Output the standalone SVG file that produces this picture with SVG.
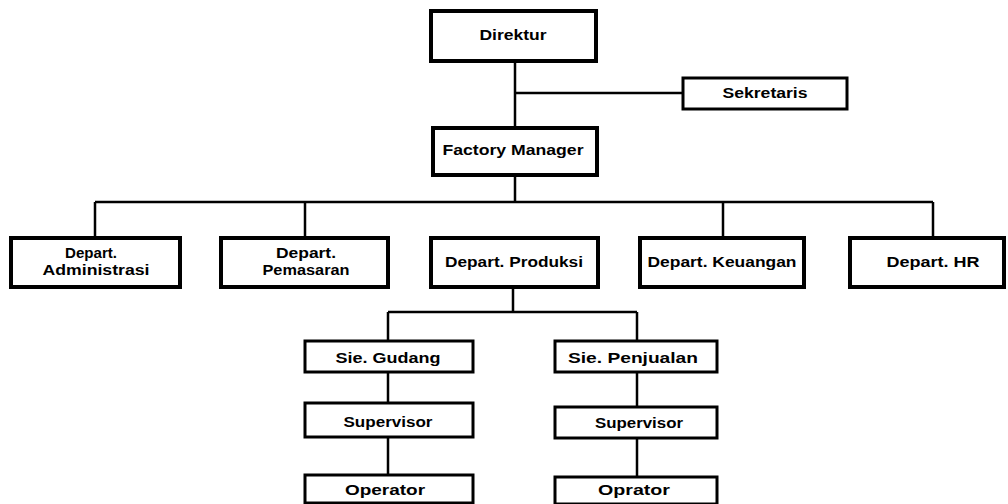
<svg xmlns="http://www.w3.org/2000/svg" width="1008" height="504" viewBox="0 0 1008 504">
<style>
.box{fill:#fff;stroke:#000;stroke-width:4}
.box2{fill:#fff;stroke:#000;stroke-width:3}
.t{font-family:"Liberation Sans",Arial,sans-serif;font-weight:bold;font-size:14px;fill:#000;text-anchor:middle}
.c{fill:none;stroke:#000;stroke-width:2.5}
</style>
<rect width="1008" height="504" fill="#fff"/>
<g id="connectors">
<path class="c" d="M515 62V128M515 93H683M515 175V202M95 202H933M95 202V238M305 202V238M723 202V238M933 202V238M513 287V312M388 312H637M388 312V341M637 312V341M388 372V403M637 372V407M388 437V475M637 438V477"/>
</g>
<g id="direktur"><rect class="box" x="431" y="11" width="165" height="50"/><text class="t" x="513" y="40" textLength="67" lengthAdjust="spacingAndGlyphs">Direktur</text></g>
<g id="sekretaris"><rect class="box2" x="683" y="78" width="164" height="31"/><text class="t" x="765" y="98" textLength="85" lengthAdjust="spacingAndGlyphs">Sekretaris</text></g>
<g id="factory-manager"><rect class="box" x="433" y="128" width="164" height="47"/><text class="t" x="513" y="155" textLength="141" lengthAdjust="spacingAndGlyphs">Factory Manager</text></g>
<g id="dept-administrasi"><rect class="box" x="11" y="238" width="169" height="49"/><text class="t" x="91" y="258" textLength="52" lengthAdjust="spacingAndGlyphs">Depart.</text><text class="t" x="96" y="275" textLength="107" lengthAdjust="spacingAndGlyphs">Administrasi</text></g>
<g id="dept-pemasaran"><rect class="box" x="221" y="238" width="167" height="49"/><text class="t" x="306" y="258" textLength="60" lengthAdjust="spacingAndGlyphs">Depart.</text><text class="t" x="306" y="275" textLength="87" lengthAdjust="spacingAndGlyphs">Pemasaran</text></g>
<g id="dept-produksi"><rect class="box" x="431" y="238" width="167" height="49"/><text class="t" x="514" y="267" textLength="138" lengthAdjust="spacingAndGlyphs">Depart. Produksi</text></g>
<g id="dept-keuangan"><rect class="box" x="640" y="238" width="164" height="49"/><text class="t" x="722" y="267" textLength="149" lengthAdjust="spacingAndGlyphs">Depart. Keuangan</text></g>
<g id="dept-hr"><rect class="box" x="850" y="238" width="154" height="49"/><text class="t" x="933" y="267" textLength="93" lengthAdjust="spacingAndGlyphs">Depart. HR</text></g>
<g id="sie-gudang"><rect class="box2" x="305" y="341" width="168" height="31"/><text class="t" x="388" y="363" textLength="105" lengthAdjust="spacingAndGlyphs">Sie. Gudang</text></g>
<g id="sie-penjualan"><rect class="box2" x="555" y="341" width="162" height="31"/><text class="t" x="633" y="363" textLength="130" lengthAdjust="spacingAndGlyphs">Sie. Penjualan</text></g>
<g id="supervisor-1"><rect class="box2" x="305" y="403" width="168" height="34"/><text class="t" x="388" y="427" textLength="89" lengthAdjust="spacingAndGlyphs">Supervisor</text></g>
<g id="supervisor-2"><rect class="box2" x="555" y="407" width="162" height="31"/><text class="t" x="639" y="428" textLength="88" lengthAdjust="spacingAndGlyphs">Supervisor</text></g>
<g id="operator-1"><rect class="box2" x="305" y="475" width="168" height="28"/><text class="t" x="385" y="495" textLength="80" lengthAdjust="spacingAndGlyphs">Operator</text></g>
<g id="operator-2"><rect class="box2" x="555" y="477" width="162" height="27"/><text class="t" x="634" y="495" textLength="72" lengthAdjust="spacingAndGlyphs">Oprator</text></g>
</svg>
